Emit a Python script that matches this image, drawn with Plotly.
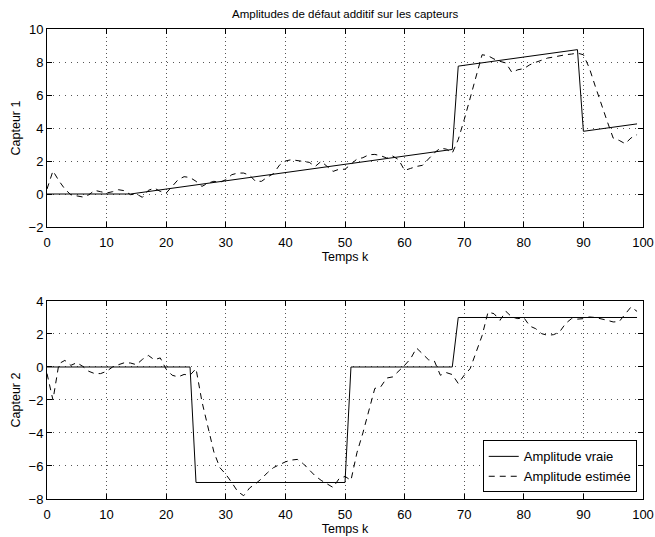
import plotly.graph_objects as go

# ---- data ----
k = list(range(100))

true1_k = [0, 14, 68, 69, 89, 90, 99]
true1_v = [0, 0, 2.7, 7.75, 8.75, 3.8, 4.25]

est1 = [0.3, 1.4, 0.8, 0.3, -0.05, -0.1, -0.18, -0.05, 0.22, 0.14,
        0.06, 0.14, 0.26, 0.2, -0.04, 0.0, -0.2, 0.22, 0.36, 0.16,
        0.06, 0.46, 0.87, 1.05, 1.0, 0.77, 0.46, 0.66, 0.77, 0.7,
        0.87, 1.17, 1.27, 1.27, 1.13, 0.77, 0.77, 1.03, 1.23, 1.75,
        2.0, 2.08, 2.04, 1.98, 1.92, 1.67, 1.98, 1.67, 1.37, 1.5,
        1.5, 1.8, 2.12, 2.2, 2.38, 2.4, 2.32, 2.18, 2.3, 2.08,
        1.43, 1.55, 1.67, 1.74, 2.1, 2.5, 2.78, 2.72, 2.48, 3.3,
        4.5, 5.8, 7.2, 8.44, 8.38, 8.18, 8.04, 7.94, 7.37, 7.53,
        7.6, 7.83, 7.98, 8.1, 8.24, 8.3, 8.38, 8.44, 8.48, 8.54,
        8.44, 7.63, 6.52, 5.4, 4.4, 3.39, 3.25, 3.05, 3.4, 3.6]

true2_k = [0, 24, 25, 50, 51, 68, 69, 99]
true2_v = [0, 0, -7, -7, 0, 0, 3, 3]

est2 = [-0.4, -2.0, 0.2, 0.4, 0.1, 0.26, 0.04, -0.26, -0.4, -0.4,
        -0.26, 0.0, 0.14, 0.26, 0.24, 0.14, 0.46, 0.7, 0.44, 0.55,
        -0.14, -0.5, -0.6, -0.45, -0.5, -0.1, -2.1, -3.7, -5.15, -6.1,
        -6.5, -7.0, -7.55, -7.8, -7.33, -7.07, -6.77, -6.4, -6.1, -5.92,
        -5.75, -5.64, -5.6, -5.86, -6.2, -6.6, -6.87, -7.1, -7.3, -6.77,
        -6.63, -6.87, -5.2, -4.0, -2.6, -1.3, -1.2, -0.67, -0.6, -0.26,
        0.1, 0.5, 1.15, 0.8, 0.44, 0.36, -0.5, -0.34, -0.46, -1.0,
        -0.5, -0.1, 0.9, 1.9, 3.33, 3.23, 2.83, 3.37, 3.03, 2.93,
        3.0, 2.48, 2.32, 2.02, 1.92, 1.96, 2.12, 2.63, 2.93, 2.9,
        2.93, 3.03, 3.0, 2.93, 2.83, 2.73, 2.75, 3.2, 3.64, 3.37]

FONT = "Liberation Sans, Arial, Helvetica, sans-serif"
DASH = "6px,5px"

fig = go.Figure()
fig.add_trace(go.Scatter(x=true1_k, y=true1_v, mode="lines",
                         line=dict(color="black", width=1), showlegend=False,
                         xaxis="x", yaxis="y"))
fig.add_trace(go.Scatter(x=k, y=est1, mode="lines",
                         line=dict(color="black", width=1, dash=DASH), showlegend=False,
                         xaxis="x", yaxis="y"))
fig.add_trace(go.Scatter(x=true2_k, y=true2_v, mode="lines", name="Amplitude vraie",
                         line=dict(color="black", width=1),
                         xaxis="x2", yaxis="y2"))
fig.add_trace(go.Scatter(x=k, y=est2, mode="lines", name="Amplitude estimée",
                         line=dict(color="black", width=1, dash=DASH),
                         xaxis="x2", yaxis="y2"))

axcommon = dict(showline=True, linecolor="black", linewidth=1, mirror="allticks",
                ticks="inside", ticklen=5, tickcolor="black", automargin=False,
                showgrid=True, gridcolor="#555555", gridwidth=1,
                zeroline=False, tickfont=dict(size=13, color="black", family=FONT))
xcommon = dict(axcommon, griddash="1px,3px", ticklabelstandoff=3)
ycommon = dict(axcommon, griddash="1px,5px")

fig.update_layout(
    width=655, height=537,
    margin=dict(l=47, r=12, t=29, b=38),
    paper_bgcolor="white", plot_bgcolor="white",
    font=dict(family=FONT, color="black", size=12),
    title=dict(text="Amplitudes de défaut additif sur les capteurs",
               x=0.527, xanchor="center", y=0.974, yanchor="middle",
               font=dict(size=11.5)),
    xaxis=dict(domain=[0, 1], range=[0, 100], dtick=10, anchor="y",
               title=dict(text="Temps k", font=dict(size=12.5), standoff=2), **xcommon),
    yaxis=dict(domain=[0.5787, 1], range=[-2, 10], dtick=2, anchor="x",
               title=dict(text="Capteur 1", font=dict(size=12.5), standoff=5), **ycommon),
    xaxis2=dict(domain=[0, 1], range=[0, 100], dtick=10, anchor="y2",
                title=dict(text="Temps k", font=dict(size=12.5), standoff=2), **xcommon),
    yaxis2=dict(domain=[0, 0.4213], range=[-8, 4], dtick=2, anchor="x2",
                title=dict(text="Capteur 2", font=dict(size=12.5), standoff=5), **ycommon),
    legend=dict(x=0.9895, y=0.014, xanchor="right", yanchor="bottom",
                bgcolor="white", bordercolor="black", borderwidth=1,
                font=dict(size=13), tracegroupgap=0, itemwidth=30),
)

fig.write_html("out.html")
